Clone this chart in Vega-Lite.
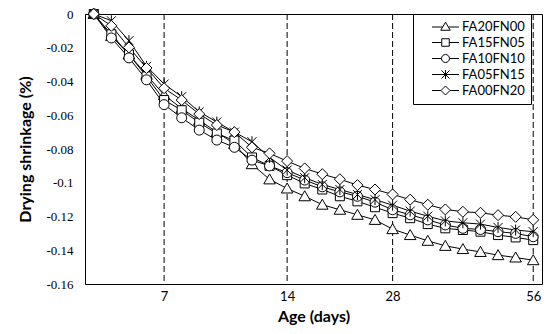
{
  "$schema": "https://vega.github.io/schema/vega-lite/v6.json",
  "width": 457,
  "height": 270,
  "autosize": {"type": "none"},
  "padding": {"left": 85, "top": 14, "right": 8, "bottom": 50},
  "background": "white",
  "config": {
    "view": {"stroke": "black", "strokeWidth": 1},
    "axis": {"grid": false, "ticks": false, "domainColor": "black", "domainWidth": 1}
  },
  "datasets": {
    "rules": [{"day": 7}, {"day": 14}, {"day": 28}, {"day": 56}],
    "main": [
      {"day": 3, "series": "FA20FN00", "value": 0}, {"day": 4, "series": "FA20FN00", "value": -0.013}, {"day": 5, "series": "FA20FN00", "value": -0.024}, {"day": 6, "series": "FA20FN00", "value": -0.036}, {"day": 7, "series": "FA20FN00", "value": -0.048}, {"day": 8, "series": "FA20FN00", "value": -0.056}, {"day": 9, "series": "FA20FN00", "value": -0.063}, {"day": 10, "series": "FA20FN00", "value": -0.07}, {"day": 11, "series": "FA20FN00", "value": -0.077}, {"day": 12, "series": "FA20FN00", "value": -0.089}, {"day": 13, "series": "FA20FN00", "value": -0.098}, {"day": 14, "series": "FA20FN00", "value": -0.1034}, {"day": 16, "series": "FA20FN00", "value": -0.108}, {"day": 18, "series": "FA20FN00", "value": -0.113}, {"day": 21, "series": "FA20FN00", "value": -0.116}, {"day": 23, "series": "FA20FN00", "value": -0.119}, {"day": 25, "series": "FA20FN00", "value": -0.122}, {"day": 28, "series": "FA20FN00", "value": -0.1275}, {"day": 31, "series": "FA20FN00", "value": -0.131}, {"day": 35, "series": "FA20FN00", "value": -0.1344}, {"day": 38, "series": "FA20FN00", "value": -0.1374}, {"day": 42, "series": "FA20FN00", "value": -0.1393}, {"day": 45, "series": "FA20FN00", "value": -0.141}, {"day": 49, "series": "FA20FN00", "value": -0.1429}, {"day": 52, "series": "FA20FN00", "value": -0.1443}, {"day": 56, "series": "FA20FN00", "value": -0.1459},
      {"day": 3, "series": "FA15FN05", "value": 0}, {"day": 4, "series": "FA15FN05", "value": -0.012}, {"day": 5, "series": "FA15FN05", "value": -0.024}, {"day": 6, "series": "FA15FN05", "value": -0.037}, {"day": 7, "series": "FA15FN05", "value": -0.051}, {"day": 8, "series": "FA15FN05", "value": -0.057}, {"day": 9, "series": "FA15FN05", "value": -0.0644}, {"day": 10, "series": "FA15FN05", "value": -0.0708}, {"day": 11, "series": "FA15FN05", "value": -0.075}, {"day": 12, "series": "FA15FN05", "value": -0.085}, {"day": 13, "series": "FA15FN05", "value": -0.09}, {"day": 14, "series": "FA15FN05", "value": -0.0955}, {"day": 16, "series": "FA15FN05", "value": -0.1004}, {"day": 18, "series": "FA15FN05", "value": -0.104}, {"day": 21, "series": "FA15FN05", "value": -0.108}, {"day": 23, "series": "FA15FN05", "value": -0.111}, {"day": 25, "series": "FA15FN05", "value": -0.1145}, {"day": 28, "series": "FA15FN05", "value": -0.118}, {"day": 31, "series": "FA15FN05", "value": -0.121}, {"day": 35, "series": "FA15FN05", "value": -0.1245}, {"day": 38, "series": "FA15FN05", "value": -0.127}, {"day": 42, "series": "FA15FN05", "value": -0.128}, {"day": 45, "series": "FA15FN05", "value": -0.129}, {"day": 49, "series": "FA15FN05", "value": -0.131}, {"day": 52, "series": "FA15FN05", "value": -0.1324}, {"day": 56, "series": "FA15FN05", "value": -0.134},
      {"day": 3, "series": "FA10FN10", "value": 0}, {"day": 4, "series": "FA10FN10", "value": -0.0142}, {"day": 5, "series": "FA10FN10", "value": -0.026}, {"day": 6, "series": "FA10FN10", "value": -0.039}, {"day": 7, "series": "FA10FN10", "value": -0.0537}, {"day": 8, "series": "FA10FN10", "value": -0.0615}, {"day": 9, "series": "FA10FN10", "value": -0.0688}, {"day": 10, "series": "FA10FN10", "value": -0.0747}, {"day": 11, "series": "FA10FN10", "value": -0.079}, {"day": 12, "series": "FA10FN10", "value": -0.0866}, {"day": 13, "series": "FA10FN10", "value": -0.09}, {"day": 14, "series": "FA10FN10", "value": -0.094}, {"day": 16, "series": "FA10FN10", "value": -0.0984}, {"day": 18, "series": "FA10FN10", "value": -0.1024}, {"day": 21, "series": "FA10FN10", "value": -0.1054}, {"day": 23, "series": "FA10FN10", "value": -0.108}, {"day": 25, "series": "FA10FN10", "value": -0.1115}, {"day": 28, "series": "FA10FN10", "value": -0.116}, {"day": 31, "series": "FA10FN10", "value": -0.119}, {"day": 35, "series": "FA10FN10", "value": -0.122}, {"day": 38, "series": "FA10FN10", "value": -0.125}, {"day": 42, "series": "FA10FN10", "value": -0.127}, {"day": 45, "series": "FA10FN10", "value": -0.1277}, {"day": 49, "series": "FA10FN10", "value": -0.129}, {"day": 52, "series": "FA10FN10", "value": -0.13}, {"day": 56, "series": "FA10FN10", "value": -0.132},
      {"day": 3, "series": "FA05FN15", "value": 0}, {"day": 4, "series": "FA05FN15", "value": -0.004}, {"day": 5, "series": "FA05FN15", "value": -0.0158}, {"day": 6, "series": "FA05FN15", "value": -0.031}, {"day": 7, "series": "FA05FN15", "value": -0.0415}, {"day": 8, "series": "FA05FN15", "value": -0.049}, {"day": 9, "series": "FA05FN15", "value": -0.058}, {"day": 10, "series": "FA05FN15", "value": -0.064}, {"day": 11, "series": "FA05FN15", "value": -0.07}, {"day": 12, "series": "FA05FN15", "value": -0.0757}, {"day": 13, "series": "FA05FN15", "value": -0.085}, {"day": 14, "series": "FA05FN15", "value": -0.0925}, {"day": 16, "series": "FA05FN15", "value": -0.097}, {"day": 18, "series": "FA05FN15", "value": -0.101}, {"day": 21, "series": "FA05FN15", "value": -0.104}, {"day": 23, "series": "FA05FN15", "value": -0.107}, {"day": 25, "series": "FA05FN15", "value": -0.11}, {"day": 28, "series": "FA05FN15", "value": -0.1133}, {"day": 31, "series": "FA05FN15", "value": -0.1168}, {"day": 35, "series": "FA05FN15", "value": -0.1198}, {"day": 38, "series": "FA05FN15", "value": -0.1226}, {"day": 42, "series": "FA05FN15", "value": -0.1237}, {"day": 45, "series": "FA05FN15", "value": -0.1245}, {"day": 49, "series": "FA05FN15", "value": -0.1265}, {"day": 52, "series": "FA05FN15", "value": -0.128}, {"day": 56, "series": "FA05FN15", "value": -0.129},
      {"day": 3, "series": "FA00FN20", "value": 0}, {"day": 4, "series": "FA00FN20", "value": -0.007}, {"day": 5, "series": "FA00FN20", "value": -0.0198}, {"day": 6, "series": "FA00FN20", "value": -0.032}, {"day": 7, "series": "FA00FN20", "value": -0.044}, {"day": 8, "series": "FA00FN20", "value": -0.051}, {"day": 9, "series": "FA00FN20", "value": -0.0593}, {"day": 10, "series": "FA00FN20", "value": -0.0658}, {"day": 11, "series": "FA00FN20", "value": -0.07}, {"day": 12, "series": "FA00FN20", "value": -0.079}, {"day": 13, "series": "FA00FN20", "value": -0.0826}, {"day": 14, "series": "FA00FN20", "value": -0.0872}, {"day": 16, "series": "FA00FN20", "value": -0.0915}, {"day": 18, "series": "FA00FN20", "value": -0.0949}, {"day": 21, "series": "FA00FN20", "value": -0.0979}, {"day": 23, "series": "FA00FN20", "value": -0.1014}, {"day": 25, "series": "FA00FN20", "value": -0.104}, {"day": 28, "series": "FA00FN20", "value": -0.1069}, {"day": 31, "series": "FA00FN20", "value": -0.11}, {"day": 35, "series": "FA00FN20", "value": -0.113}, {"day": 38, "series": "FA00FN20", "value": -0.1158}, {"day": 42, "series": "FA00FN20", "value": -0.1172}, {"day": 45, "series": "FA00FN20", "value": -0.1178}, {"day": 49, "series": "FA00FN20", "value": -0.1192}, {"day": 52, "series": "FA00FN20", "value": -0.1202}, {"day": 56, "series": "FA00FN20", "value": -0.122}
    ]
  },
  "encoding": {
    "x": {
      "field": "day",
      "type": "ordinal",
      "scale": {"type": "point", "padding": 0.5, "domain": [3,4,5,6,7,8,9,10,11,12,13,14,16,18,21,23,25,28,31,35,38,42,45,49,52,56]},
      "axis": {
        "values": [7, 14, 28, 56],
        "labelAngle": 0,
        "labelFont": "Lato",
        "labelFontSize": 13,
        "labelColor": "black",
        "labelPadding": 6,
        "title": "Age (days)",
        "titleFont": "Lato",
        "titleFontSize": 16,
        "titleFontWeight": "bold",
        "titleColor": "black",
        "titlePadding": 5,
        "domain": false
      }
    }
  },
  "resolve": {"scale": {"shape": "independent"}},
  "layer": [
    {
      "data": {"name": "rules"},
      "mark": {"type": "rule", "color": "black", "strokeWidth": 1, "strokeDash": [6, 3]},
      "encoding": {}
    },
    {
      "data": {"name": "main"},
      "mark": {"type": "line", "color": "black", "strokeWidth": 1},
      "encoding": {
        "y": {
          "field": "value",
          "type": "quantitative",
          "scale": {"domain": [-0.16, 0], "nice": false, "zero": false},
          "axis": {
            "values": [0, -0.02, -0.04, -0.06, -0.08, -0.1, -0.12, -0.14, -0.16],
            "labelOverlap": false,
            "labelExpr": "datum.value == 0 ? '0' : '-' + format(-datum.value, '.2~f')",
            "labelFont": "Liberation Serif",
            "labelFontSize": 13,
            "labelColor": "black",
            "labelPadding": 12,
            "title": "Drying shrinkage (%)",
            "titleFont": "Lato",
            "titleFontSize": 16,
            "titleFontWeight": "bold",
            "titleColor": "black",
            "titlePadding": 12
          }
        },
        "detail": {"field": "series"}
      }
    },
    {
      "data": {"name": "main"},
      "mark": {"type": "point", "filled": true, "fill": "white", "stroke": "black", "strokeWidth": 1, "size": 100, "opacity": 1},
      "encoding": {
        "y": {
          "field": "value",
          "type": "quantitative",
          "axis": {
            "values": [0, -0.02, -0.04, -0.06, -0.08, -0.1, -0.12, -0.14, -0.16],
            "labelOverlap": false,
            "labelExpr": "datum.value == 0 ? '0' : '-' + format(-datum.value, '.2~f')",
            "labelFont": "Liberation Serif",
            "labelFontSize": 13,
            "labelColor": "black",
            "labelPadding": 12,
            "title": "Drying shrinkage (%)",
            "titleFont": "Lato",
            "titleFontSize": 16,
            "titleFontWeight": "bold",
            "titleColor": "black",
            "titlePadding": 12
          }
        },
        "shape": {
          "field": "series",
          "type": "nominal",
          "scale": {
            "domain": ["FA20FN00", "FA15FN05", "FA10FN10", "FA05FN15", "FA00FN20"],
            "range": [
              "M0,-1.1L1.15,0.9L-1.15,0.9Z",
              "M-0.9,-0.9L0.9,-0.9L0.9,0.9L-0.9,0.9Z",
              "M-1,0A1,1,0,1,1,1,0A1,1,0,1,1,-1,0Z",
              "M-0.9,-0.9L0.9,0.9M-0.9,0.9L0.9,-0.9M0,-1.1L0,1.1",
              "M0,-1.1L1.1,0L0,1.1L-1.1,0Z"
            ]
          },
          "legend": null
        }
      }
    },
    {
      "data": {"name": "main"},
      "transform": [{"filter": "datum.value > 1"}],
      "mark": {"type": "point", "filled": false, "stroke": "black", "strokeWidth": 1, "size": 100, "opacity": 1},
      "encoding": {
        "y": {
          "field": "value",
          "type": "quantitative",
          "axis": {
            "values": [0, -0.02, -0.04, -0.06, -0.08, -0.1, -0.12, -0.14, -0.16],
            "labelOverlap": false,
            "labelExpr": "datum.value == 0 ? '0' : '-' + format(-datum.value, '.2~f')",
            "labelFont": "Liberation Serif",
            "labelFontSize": 13,
            "labelColor": "black",
            "labelPadding": 12,
            "title": "Drying shrinkage (%)",
            "titleFont": "Lato",
            "titleFontSize": 16,
            "titleFontWeight": "bold",
            "titleColor": "black",
            "titlePadding": 12
          }
        },
        "shape": {
          "field": "series",
          "type": "nominal",
          "scale": {
            "domain": ["FA20FN00", "FA15FN05", "FA10FN10", "FA05FN15", "FA00FN20"],
            "range": [
              "M1.3,0.1L3.4,0.1M4.6,0.1L6.7,0.1M4,-0.85L4.95,0.75L3.05,0.75Z",
              "M1.3,0L3.25,0M4.75,0L6.7,0M3.25,-0.75L4.75,-0.75L4.75,0.75L3.25,0.75Z",
              "M1.3,0L3.2,0M4.8,0L6.7,0M3.2,0A0.8,0.8,0,1,1,4.8,0A0.8,0.8,0,1,1,3.2,0Z",
              "M1.3,0L6.7,0M3.2,-0.8L4.8,0.8M3.2,0.8L4.8,-0.8M4,-0.9L4,0.9",
              "M1.3,0L3.1,0M4.9,0L6.7,0M4,-0.9L4.9,0L4,0.9L3.1,0Z"
            ]
          },
          "legend": {
            "orient": "none",
            "legendX": 328,
            "legendY": 0,
            "title": null,
            "padding": 6,
            "strokeColor": "black",
            "symbolSize": 100,
            "symbolStrokeColor": "black",
            "symbolStrokeWidth": 1,
            "labelFont": "Lato",
            "labelFontSize": 13,
            "labelColor": "black",
            "labelOffset": 30,
            "rowPadding": 2
          }
        }
      }
    }
  ]
}
